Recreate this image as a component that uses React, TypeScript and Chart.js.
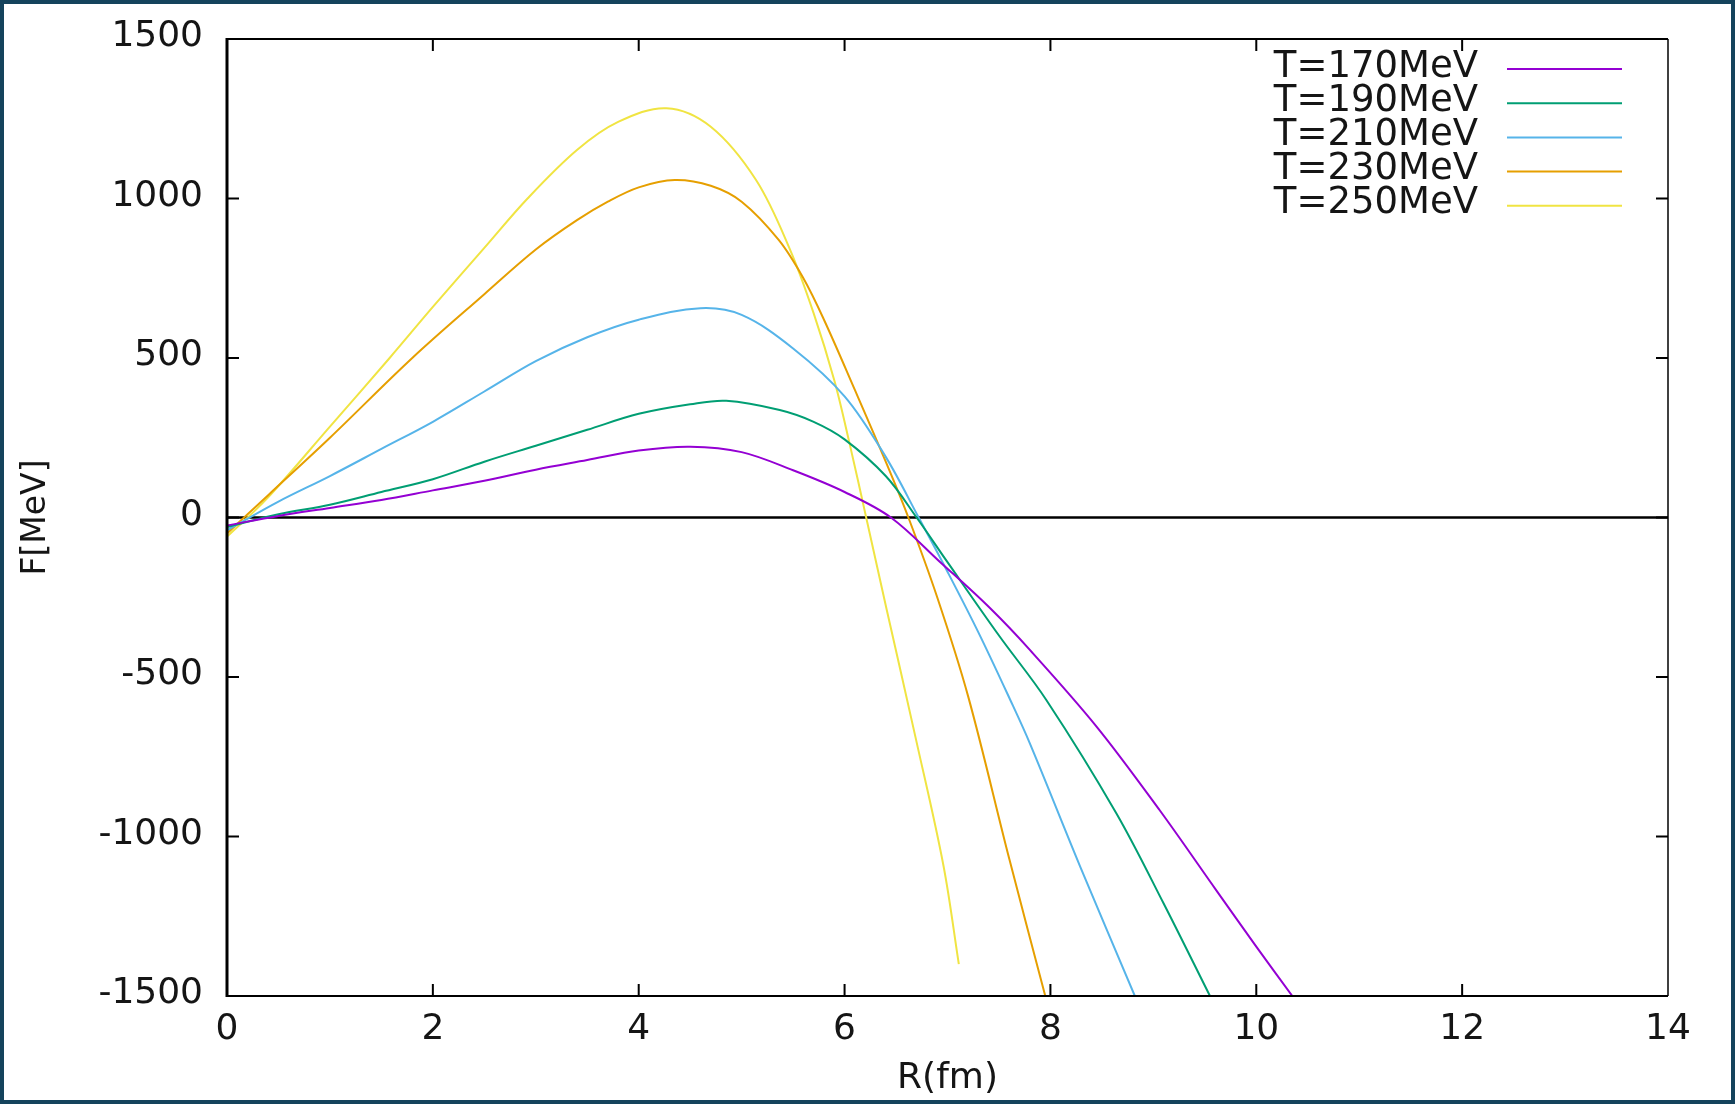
import React, { useEffect, useRef } from 'react';
import { Chart, registerables } from 'chart.js';

Chart.register(...registerables);

const seriesLabels = ['T=170MeV', 'T=190MeV', 'T=210MeV', 'T=230MeV', 'T=250MeV'];
const seriesColors = ['#9400d3', '#009e73', '#56b4e9', '#e69f00', '#f0e442'];

const r170 = [0, 0.5, 1, 1.5, 2, 2.5, 3, 3.5, 4, 4.5, 5, 5.5, 6, 6.45, 6.93, 7.4, 7.8, 8.45, 9.06, 9.61, 10.0, 10.35];
const f170 = [-25, 5, 30, 55, 85, 115, 150, 180, 210, 222, 205, 148, 80, 0, -140, -280, -415, -656, -917, -1168, -1345, -1500];

const r190 = [0, 0.5, 1, 1.5, 2, 2.5, 3, 3.5, 4, 4.5, 4.85, 5.37, 5.7, 6.0, 6.4, 6.7, 7.0, 7.5, 7.96, 8.64, 9.1, 9.55];
const f190 = [-30, 10, 40, 80, 120, 175, 225, 275, 325, 355, 366, 337, 300, 245, 130, 0, -140, -370, -572, -927, -1210, -1500];

const r210 = [0, 0.5, 1, 1.5, 2, 2.5, 3, 3.5, 4, 4.6, 5.0, 5.5, 6.0, 6.4, 6.72, 7.0, 7.3, 7.61, 7.8, 8.29, 8.82];
const f210 = [-40, 50, 130, 215, 300, 395, 490, 565, 620, 656, 635, 530, 380, 190, 0, -170, -360, -572, -708, -1095, -1500];

const r230 = [0, 0.4, 1, 1.8, 2.5, 3.0, 3.4, 3.7, 4.0, 4.35, 4.7, 5.0, 5.36, 5.6, 5.8, 6.1, 6.4, 6.62, 6.9, 7.2, 7.6, 7.95];
const f230 = [-50, 70, 250, 500, 700, 840, 932, 990, 1035, 1058, 1040, 990, 870, 750, 620, 400, 175, 0, -250, -560, -1070, -1500];

const r250 = [0, 0.39, 1, 1.58, 2.0, 2.5, 2.92, 3.4, 3.8, 4.27, 4.7, 5.14, 5.47, 5.7, 5.9, 6.05, 6.21, 6.41, 6.69, 6.96, 7.11];
const f250 = [-60, 60, 285, 500, 660, 845, 1000, 1152, 1240, 1283, 1225, 1058, 840, 640, 430, 230, 0, -290, -690, -1090, -1400];

const seriesR = [r170, r190, r210, r230, r250];
const seriesF = [f170, f190, f210, f230, f250];

const xMin = 0;
const xMax = 14;
const xStep = 2;
const yMin = -1500;
const yMax = 1500;
const yStep = 500;

const FONT = '"DejaVu Sans", "Liberation Sans", Arial, sans-serif';
const TEXT = '#151515';

const gnuplotPlugin = {
  id: 'gnuplotFrame',
  beforeDatasetsDraw(chart: any) {
    const { ctx, chartArea: a, scales } = chart;
    const y0 = scales.y.getPixelForValue(0);
    ctx.save();
    ctx.strokeStyle = '#000';
    ctx.lineWidth = 2.5;
    ctx.beginPath();
    ctx.moveTo(a.left, y0);
    ctx.lineTo(a.right, y0);
    ctx.stroke();
    ctx.restore();
  },
  afterDatasetsDraw(chart: any) {
    const { ctx, chartArea: a, scales } = chart;
    ctx.save();
    ctx.strokeStyle = '#000';
    ctx.lineCap = 'butt';
    ctx.lineWidth = 2;
    ctx.beginPath();
    ctx.moveTo(a.left, a.top);
    ctx.lineTo(a.right, a.top);
    ctx.moveTo(a.left, a.bottom);
    ctx.lineTo(a.right, a.bottom);
    ctx.stroke();
    ctx.lineWidth = 1.5;
    ctx.beginPath();
    ctx.moveTo(a.right, a.top);
    ctx.lineTo(a.right, a.bottom);
    ctx.stroke();
    ctx.lineWidth = 3;
    ctx.beginPath();
    ctx.moveTo(a.left, a.top - 1);
    ctx.lineTo(a.left, a.bottom + 1);
    ctx.stroke();
    const tl = 12;
    ctx.lineWidth = 2;
    ctx.beginPath();
    scales.x.ticks.forEach((t: any) => {
      if (t.value <= xMin || t.value >= xMax) return;
      const px = scales.x.getPixelForValue(t.value);
      ctx.moveTo(px, a.bottom);
      ctx.lineTo(px, a.bottom - tl);
      ctx.moveTo(px, a.top);
      ctx.lineTo(px, a.top + tl);
    });
    scales.y.ticks.forEach((t: any) => {
      if (t.value <= yMin || t.value >= yMax) return;
      const py = scales.y.getPixelForValue(t.value);
      ctx.moveTo(a.left, py);
      ctx.lineTo(a.left + tl, py);
      ctx.moveTo(a.right, py);
      ctx.lineTo(a.right - tl, py);
    });
    ctx.stroke();
    ctx.restore();
  },
  afterDraw(chart: any) {
    const { ctx } = chart;
    const textRight = 1474;
    const lineStart = 1503;
    const lineEnd = 1618;
    const rowTop = 63;
    const rowGap = 34.2;
    ctx.save();
    ctx.font = `37px ${FONT}`;
    ctx.fillStyle = TEXT;
    ctx.textAlign = 'right';
    ctx.textBaseline = 'middle';
    chart.data.datasets.forEach((ds: any, i: number) => {
      const y = rowTop + i * rowGap;
      ctx.fillText(ds.label, textRight, y);
      ctx.strokeStyle = ds.borderColor;
      ctx.lineWidth = 2;
      ctx.beginPath();
      ctx.moveTo(lineStart, y + 2);
      ctx.lineTo(lineEnd, y + 2);
      ctx.stroke();
    });
    ctx.restore();
  },
};

export default function App() {
  const canvasRef = useRef<HTMLCanvasElement | null>(null);

  useEffect(() => {
    const canvas = canvasRef.current;
    if (!canvas) return;
    const datasets = seriesLabels.map((label, i) => ({
      label,
      data: seriesR[i].map((r, j) => ({ x: r, y: seriesF[i][j] })),
      borderColor: seriesColors[i],
      backgroundColor: seriesColors[i],
      borderWidth: 2,
      pointRadius: 0,
      tension: 0.35,
      fill: false,
    }));

    const chart = new Chart(canvas, {
      type: 'line',
      data: { datasets },
      plugins: [gnuplotPlugin],
      options: {
        responsive: false,
        animation: false,
        devicePixelRatio: 1,
        layout: { padding: { left: 0, top: 35, right: 63, bottom: 0 } },
        plugins: {
          legend: { display: false },
          tooltip: { enabled: false },
        },
        scales: {
          x: {
            type: 'linear',
            min: xMin,
            max: xMax,
            grid: { display: false, drawTicks: false },
            border: { display: false },
            ticks: {
              stepSize: xStep,
              padding: 12,
              color: TEXT,
              font: { family: FONT, size: 36 },
              maxRotation: 0,
              autoSkip: false,
              callback: (v: any) => String(v),
            },
            title: {
              display: true,
              text: 'R(fm)',
              color: TEXT,
              font: { family: FONT, size: 36 },
              padding: { top: 0, bottom: 0 },
            },
            afterFit: (s: any) => {
              s.height = 104;
              s.paddingLeft = 0;
              s.paddingRight = 0;
            },
          },
          y: {
            type: 'linear',
            min: yMin,
            max: yMax,
            grid: { display: false, drawTicks: false },
            border: { display: false },
            ticks: {
              stepSize: yStep,
              padding: 24,
              labelOffset: -2,
              color: TEXT,
              font: { family: FONT, size: 36 },
              autoSkip: false,
              callback: (v: any) => String(v),
            },
            title: {
              display: true,
              text: 'F[MeV]',
              color: TEXT,
              font: { family: FONT, size: 33 },
              padding: { top: 13, bottom: 0 },
            },
            afterFit: (s: any) => {
              s.width = 223;
              s.paddingTop = 0;
              s.paddingBottom = 0;
            },
          },
        },
      },
    });
    return () => chart.destroy();
  }, []);

  return (
    <div
      style={{
        position: 'fixed',
        left: 0,
        top: 0,
        width: 1735,
        height: 1104,
        background: '#15435c',
        padding: 4,
        boxSizing: 'border-box',
      }}
    >
      <div style={{ width: 1727, height: 1096, background: '#ffffff' }}>
        <canvas
          ref={canvasRef}
          width={1727}
          height={1096}
          style={{ width: 1727, height: 1096, display: 'block' }}
        />
      </div>
    </div>
  );
}
